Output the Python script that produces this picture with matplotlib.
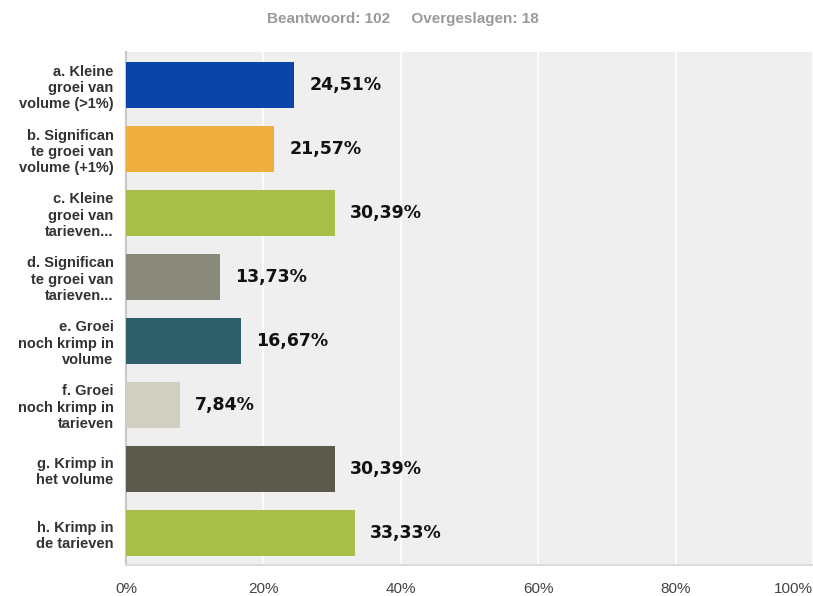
import matplotlib.pyplot as plt

labels = [
    "a. Kleine\ngroei van\nvolume (>1%)",
    "b. Significan\nte groei van\nvolume (+1%)",
    "c. Kleine\ngroei van\ntarieven...",
    "d. Significan\nte groei van\ntarieven...",
    "e. Groei\nnoch krimp in\nvolume",
    "f. Groei\nnoch krimp in\ntarieven",
    "g. Krimp in\nhet volume",
    "h. Krimp in\nde tarieven",
]
values = [24.51, 21.57, 30.39, 13.73, 16.67, 7.84, 30.39, 33.33]
colors = ["#0b45a8", "#efaf3e", "#a8bf4a", "#8a8a7c",
          "#2f5f6a", "#d0cfc2", "#5b5a4c", "#a8bf4a"]
ticks = [0, 20, 40, 60, 80, 100]

fig = plt.figure(figsize=(8.13, 5.96), dpi=100)
ax = fig.add_axes([0.155, 0.052, 0.845, 0.861])
ax.set_facecolor("#efefef")

pos = list(range(len(values)))
ax.barh(pos, values, height=0.72, color=colors, zorder=3)
for p, v in zip(pos, values):
    ax.text(v + 2.2, p, f"{v:.2f}%".replace(".", ","), va="center", ha="left",
            fontsize=12.5, fontweight="bold", color="#111111", zorder=4)

ax.set_xlim(0, 100)
ax.set_ylim(7.5, -0.52)
ax.set_xticks(ticks)
ax.set_xticklabels([f"{t}%" for t in ticks], fontsize=11, color="#444444",
                   family="Liberation Sans")
ax.get_xticklabels()[-1].set_horizontalalignment("right")
ax.tick_params(axis="x", length=0, pad=12)
ax.set_yticks(pos)
ax.set_yticklabels(labels, fontsize=10.5, fontweight="bold", color="#333333",
                   family="Liberation Sans", linespacing=1.2)
ax.tick_params(axis="y", length=0, pad=9)
ax.grid(axis="x", color="white", linewidth=1.2, zorder=0)

for s in ["top", "right"]:
    ax.spines[s].set_visible(False)
ax.spines["left"].set_color("#c8c8c8")
ax.spines["left"].set_linewidth(1.5)
ax.spines["bottom"].set_color("#dcdcdc")
ax.spines["bottom"].set_linewidth(1.5)

fig.text(0.495, 0.968, "Beantwoord: 102     Overgeslagen: 18", ha="center",
         va="center", fontsize=11, fontweight="bold", color="#9a9a9a",
         family="Liberation Sans")

fig.savefig("out.png", dpi=100, facecolor="white")
